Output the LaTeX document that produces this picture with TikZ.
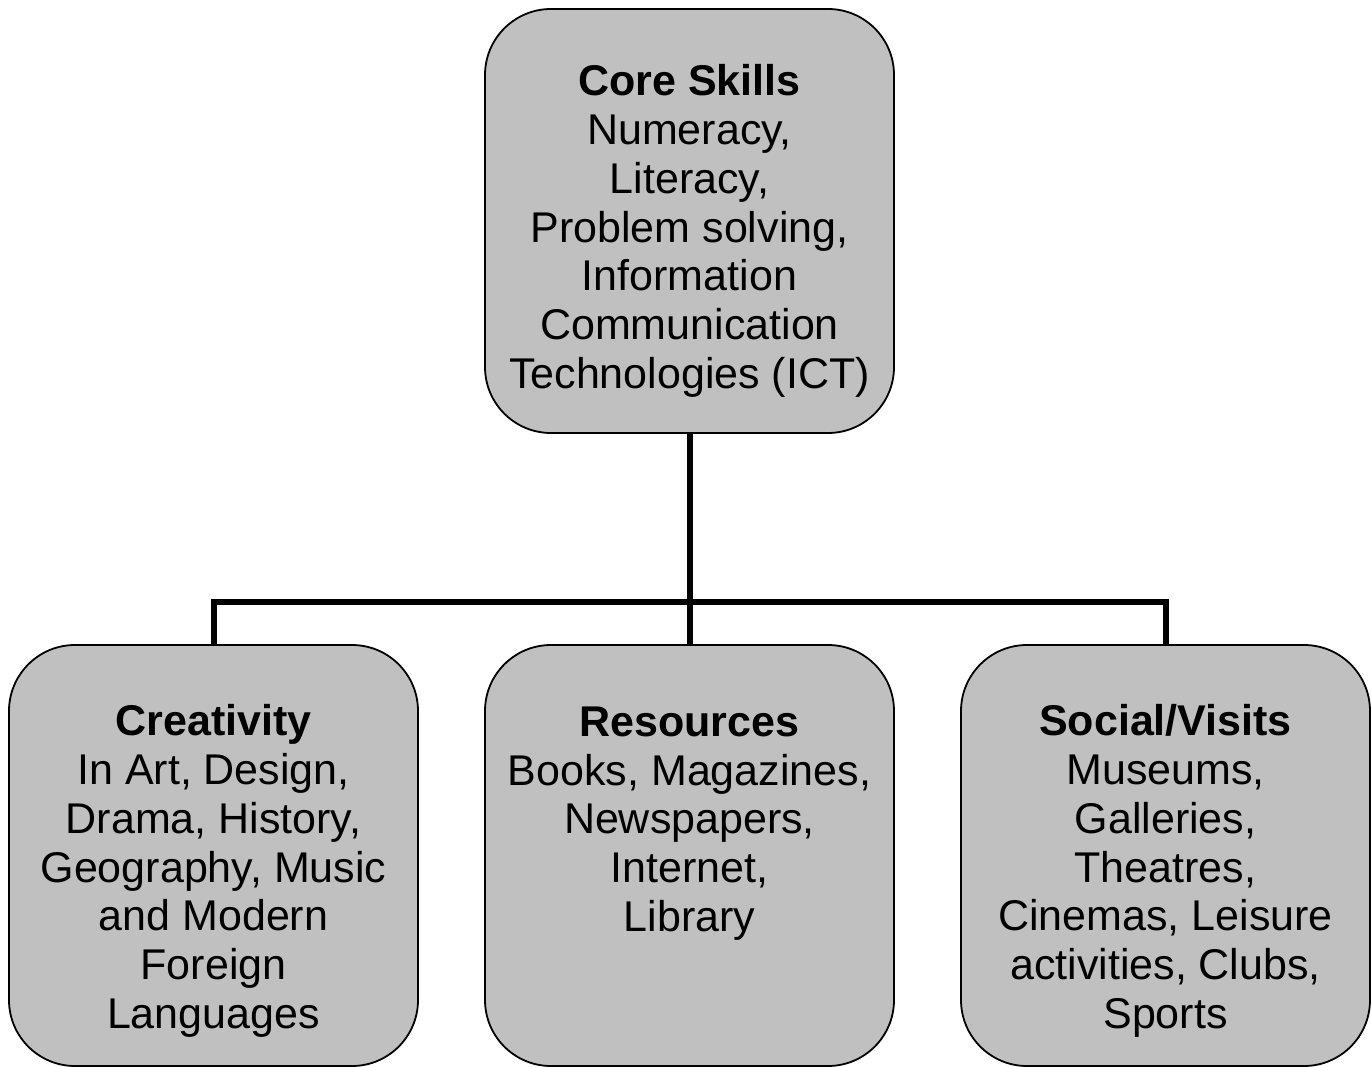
\documentclass[tikz,border=0pt]{standalone}
\usepackage{fontspec}
\setmainfont{Liberation Sans}
\usetikzlibrary{backgrounds}
\definecolor{boxgray}{HTML}{C0C0C0}
\tikzset{
  box/.style={draw=black, line width=1.8pt, fill=boxgray, rounded corners=66pt,
    minimum width=409pt, inner sep=0pt, outer sep=0pt},
  toph/.style={minimum height=424pt},
  both/.style={minimum height=421pt},
  boxtext/.style={font=\fontsize{43}{48.8}\selectfont, align=center, anchor=base, inner sep=0pt},
  conn/.style={draw=black, line width=6pt, line join=miter}
}
\begin{document}
\begin{tikzpicture}[x=1pt,y=-1pt]
\useasboundingbox (0,0) rectangle (1371,1067);
\node[box,toph] (core) at (689.5,221) {};
\node[box,both] (creat) at (213.5,855.5) {};
\node[box,both] (res) at (689.5,855.5) {};
\node[box,both] (soc) at (1165.5,855.5) {};
\coordinate (hub) at (689.5,602);
\begin{scope}[on background layer]
\draw[conn] (core.south) -- (res.north);
\draw[conn] (creat.north) -- (creat.north |- hub) -- (soc.north |- hub) -- (soc.north);
\end{scope}
\node[boxtext] (coret) at (689.5,388.5) {\textbf{Core Skills}\\Numeracy,\\Literacy,\\Problem solving,\\Information\\Communication\\Technologies (ICT)};
\node[boxtext] (creatt) at (213.5,1028.5) {\textbf{Creativity}\\In Art, Design,\\Drama, History,\\Geography, Music\\and Modern\\Foreign\\Languages};
\node[boxtext] (rest) at (689.5,931.5) {\textbf{Resources}\\Books, Magazines,\\Newspapers,\\Internet,\\Library};
\node[boxtext] (soct) at (1165.5,1028.5) {\textbf{Social/Visits}\\Museums,\\Galleries,\\Theatres,\\Cinemas, Leisure\\activities, Clubs,\\Sports};
\end{tikzpicture}
\end{document}
